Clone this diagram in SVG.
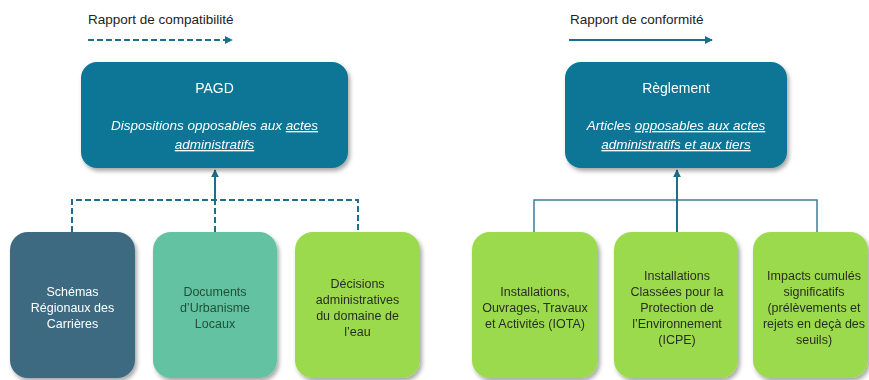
<svg xmlns="http://www.w3.org/2000/svg" width="869" height="380" viewBox="0 0 869 380">
<style>
text{font-family:"Liberation Sans","DejaVu Sans",sans-serif;text-anchor:middle}
.leg{font-size:13.5px;fill:#222;text-anchor:start}
.ttl{font-size:14px;fill:#fff}
.it{font-size:13.5px;fill:#fff;font-style:italic}
.u{text-decoration:underline}
.bt{font-size:12.5px}
.w{fill:#fff}
.dg{fill:#234f3c}
.dk{fill:#2a2f22}
.top{fill:#0b7595}
.b1{fill:#3c6a81}
.b2{fill:#62c2a2}
.b3{fill:#9bd94e}
.con{fill:none;stroke-width:2}
.dash{stroke:#1c6f8c;stroke-dasharray:6 3}
.sol{stroke:#1c6f8c}
.thin{stroke:#3d7f96;stroke-width:1.5}
</style>
<defs>
<filter id="sh" x="-10%" y="-10%" width="125%" height="130%">
<feDropShadow dx="2" dy="3" stdDeviation="2" flood-color="#000" flood-opacity="0.35"/>
</filter>
<marker id="ar" viewBox="0 0 10 10" refX="9" refY="5" markerWidth="4" markerHeight="4" orient="auto">
<path d="M0,0 L10,5 L0,10 z" fill="#1c6f8c"/>
</marker>
</defs>
<g id="legend">
<text class="leg" x="88" y="24">Rapport de compatibilité</text>
<line class="con dash" x1="88" y1="40" x2="232" y2="40" marker-end="url(#ar)"/>
<text class="leg" x="570" y="24">Rapport de conformité</text>
<line class="con sol" x1="569" y1="40" x2="712" y2="40" marker-end="url(#ar)"/>
</g>
<g id="connectors">
<polyline class="con dash" points="72,232 72,200 358,200 358,232"/>
<line class="con dash" x1="215" y1="232" x2="215" y2="200"/>
<line class="con sol" x1="215" y1="200" x2="215" y2="170" marker-end="url(#ar)"/>
<polyline class="con thin" points="534,232 534,200 817,200 817,232"/>
<line class="con sol" x1="677" y1="232" x2="677" y2="170" marker-end="url(#ar)"/>
</g>
<g id="pagd" filter="url(#sh)">
<rect class="top" x="81" y="62" width="267" height="106" rx="16"/>
<text class="ttl" x="214.5" y="93">PAGD</text>
<text class="it" x="214.5" y="130">Dispositions opposables aux <tspan class="u">actes</tspan></text>
<text class="it u" x="214.5" y="149">administratifs</text>
</g>
<g id="reglement" filter="url(#sh)">
<rect class="top" x="565" y="62" width="222" height="106" rx="16"/>
<text class="ttl" x="676" y="93">Règlement</text>
<text class="it" x="676" y="130">Articles <tspan class="u">opposables aux actes</tspan></text>
<text class="it u" x="676" y="149">administratifs et aux tiers</text>
</g>
<g id="src" filter="url(#sh)">
<rect class="b1" x="10" y="232" width="125" height="146" rx="18"/>
<text class="bt w" x="72.5" y="296">Schémas</text>
<text class="bt w" x="72.5" y="312">Régionaux des</text>
<text class="bt w" x="72.5" y="328">Carrières</text>
</g>
<g id="dul" filter="url(#sh)">
<rect class="b2" x="153" y="232" width="124" height="146" rx="18"/>
<text class="bt dg" x="215" y="296">Documents</text>
<text class="bt dg" x="215" y="312">d’Urbanisme</text>
<text class="bt dg" x="215" y="328">Locaux</text>
</g>
<g id="dad" filter="url(#sh)">
<rect class="b3" x="295" y="232" width="125" height="146" rx="18"/>
<text class="bt dk" x="357.5" y="288">Décisions</text>
<text class="bt dk" x="357.5" y="304">administratives</text>
<text class="bt dk" x="357.5" y="320">du domaine de</text>
<text class="bt dk" x="357.5" y="336">l’eau</text>
</g>
<g id="iota" filter="url(#sh)">
<rect class="b3" x="472" y="232" width="126" height="146" rx="18"/>
<text class="bt dk" x="535" y="296">Installations,</text>
<text class="bt dk" x="535" y="312">Ouvrages, Travaux</text>
<text class="bt dk" x="535" y="328">et Activités (IOTA)</text>
</g>
<g id="icpe" filter="url(#sh)">
<rect class="b3" x="614" y="232" width="124" height="146" rx="18"/>
<text class="bt dk" x="677" y="280">Installations</text>
<text class="bt dk" x="677" y="296">Classées pour la</text>
<text class="bt dk" x="677" y="312">Protection de</text>
<text class="bt dk" x="677" y="328">l’Environnement</text>
<text class="bt dk" x="677" y="344">(ICPE)</text>
</g>
<g id="impacts" filter="url(#sh)">
<rect class="b3" x="753" y="232" width="115" height="146" rx="18"/>
<text class="bt dk" x="814" y="280">Impacts cumulés</text>
<text class="bt dk" x="814" y="296">significatifs</text>
<text class="bt dk" x="814" y="312">(prélèvements et</text>
<text class="bt dk" x="814" y="328">rejets en deçà des</text>
<text class="bt dk" x="814" y="344">seuils)</text>
</g>
</svg>
